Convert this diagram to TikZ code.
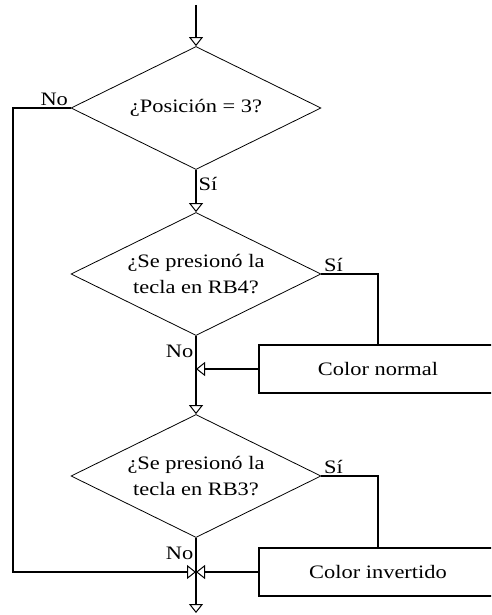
\documentclass[tikz,border=0pt]{standalone}
\usepackage{fontspec}
\setmainfont[FakeStretch=1.18]{Liberation Serif}
\usetikzlibrary{shapes.geometric,arrows.meta}

\begin{document}
\begin{tikzpicture}[
    x=1pt, y=-1pt,
    every node/.style={font=\fontsize{19}{26}\selectfont},
    decision/.style={
        draw,
        diamond,
        aspect=2,
        minimum width=250pt,
        minimum height=123pt,
        inner sep=0pt,
        align=center,
        line width=0.8pt
    },
    action/.style={
        draw,
        minimum width=238pt,
        minimum height=48pt,
        inner sep=0pt,
        line width=1.3pt
    },
    flow/.style={
        line width=1.3pt,
        -{Triangle[open,length=9pt,width=14pt,line width=1pt]}
    },
    link/.style={line width=1.3pt},
    lbl/.style={inner sep=2pt}
]

\clip (0,0) rectangle (491,615);

\node[decision] (d1) at (196,108) {¿Posición = 3?};
\node[decision] (d2) at (196,274) {¿Se presionó la\\tecla en RB4?};
\node[decision] (d3) at (196,476) {¿Se presionó la\\tecla en RB3?};

\node[action] (b1) at (378,369) {Color normal};
\node[action] (b2) at (378,572) {Color invertido};

\coordinate (ini) at (196,5);
\coordinate (fin) at (196,613);
\coordinate (lft) at (13,108);

\draw[flow] (ini) -- (d1.north);
\draw[flow] (d1.south) -- node[lbl, right, pos=0.33] {Sí} (d2.north);
\draw[flow] (d2.south) -- node[lbl, left, pos=0.2] {No} (d3.north);
\draw[flow] (d3.south) -- node[lbl, left, pos=0.2] {No} (fin);

\draw[flow] (d1.west) node[lbl, anchor=south east] {No} -- (lft) |- (b2.west -| d3.south);

\draw[link] (d2.east) node[lbl, anchor=south west] {Sí} -- (d2.east -| b1.north) -- (b1.north);
\draw[link] (d3.east) node[lbl, anchor=south west] {Sí} -- (d3.east -| b2.north) -- (b2.north);

\draw[flow] (b1.west) -- (b1.west -| d2.south);
\draw[flow] (b2.west) -- (b2.west -| d3.south);

\end{tikzpicture}
\end{document}
